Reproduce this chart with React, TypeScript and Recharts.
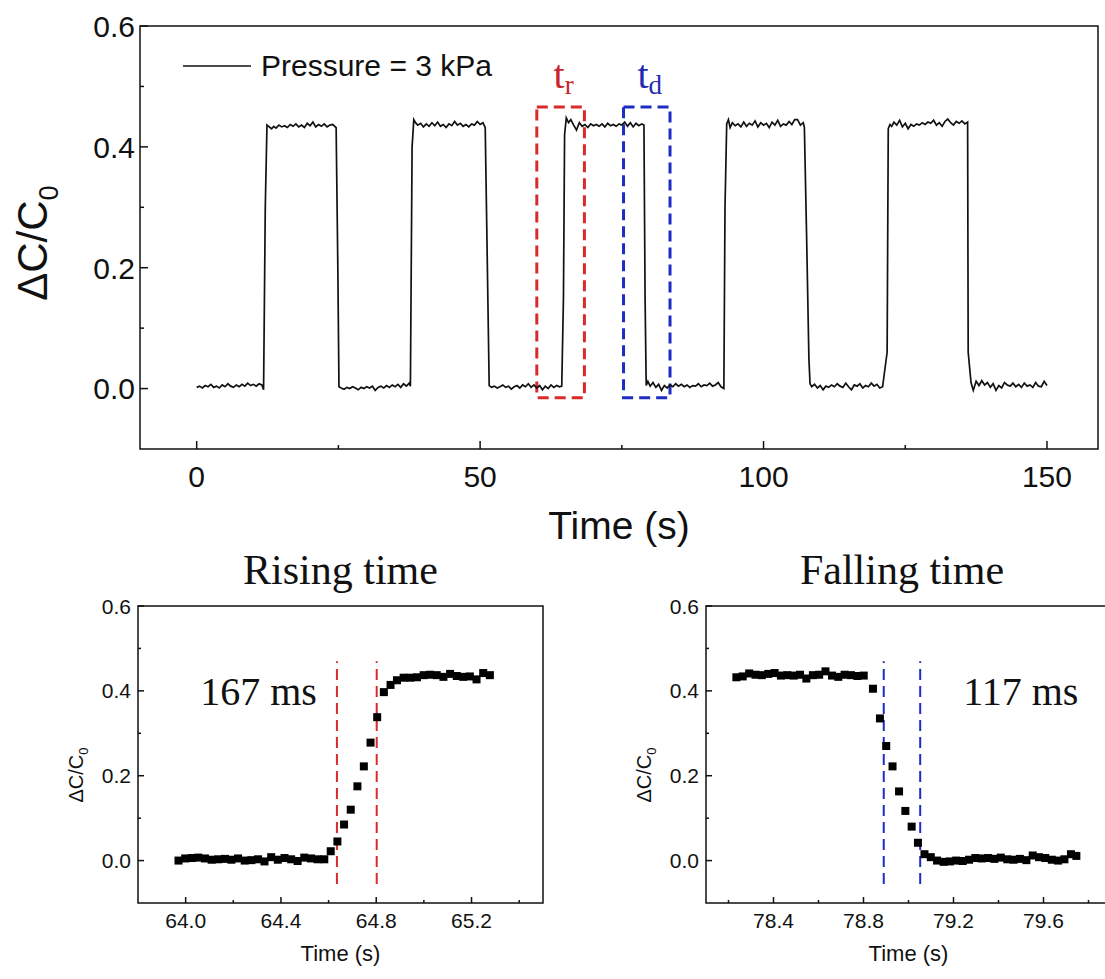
import React from 'react';
import {
  LineChart, Line, ScatterChart, Scatter, XAxis, YAxis,
  ReferenceArea, ReferenceLine, Legend,
} from 'recharts';

const SANS = '"Liberation Sans", Arial, sans-serif';
const SERIF = '"Liberation Serif", "Times New Roman", serif';
const INK = '#111';
const RED = '#d92b2b';
const BLUE = '#1f2cc4';

// ---------- main trace: [time (s), ΔC/C0] ----------
const mainTrace: [number, number][] = [
  [0, 0.002], [0.5, 0.004], [1, 0.001], [1.5, 0.005], [2, 0.003], [2.5, 0.007], [3, 0.002], [3.5, 0.004],
  [4, 0.001], [4.5, 0.006], [5, 0.003], [5.5, 0.008], [6, 0.004], [6.5, 0.002], [7, 0.006], [7.5, 0.003],
  [8, 0.007], [8.5, 0.004], [9, 0.009], [9.5, 0.005], [10, 0.007], [10.5, 0.004], [11, 0.008], [11.5, 0.006],
  [11.8, -0.002], [12.1, 0.3], [12.4, 0.436],
  [12.8, 0.433], [13.2, 0.43], [13.6, 0.434], [14, 0.431], [14.5, 0.436], [15, 0.433], [15.5, 0.435],
  [16, 0.432], [16.5, 0.437], [17, 0.434], [17.5, 0.438], [18, 0.433], [18.5, 0.436], [19, 0.432],
  [19.5, 0.439], [20, 0.435], [20.5, 0.441], [21, 0.433], [21.5, 0.437], [22, 0.434], [22.5, 0.438],
  [23, 0.433], [23.5, 0.436], [24, 0.437], [24.6, 0.432],
  [24.9, 0.2], [25.1, 0.003],
  [25.5, 0.001], [26, -0.001], [26.5, 0.002], [27, 0.0], [27.5, 0.003], [28, 0.001], [28.5, -0.002],
  [29, 0.002], [29.5, 0.0], [30, 0.003], [30.5, 0.001], [31, 0.004], [31.5, -0.003], [32, 0.002],
  [32.5, 0.004], [33, 0.001], [33.5, 0.005], [34, 0.002], [34.5, 0.006], [35, 0.003], [35.5, 0.007],
  [36, 0.002], [36.5, 0.008], [37, 0.004], [37.5, 0.009],
  [37.7, 0.004], [38.0, 0.4], [38.3, 0.445],
  [38.6, 0.44], [39, 0.436], [39.5, 0.439], [40, 0.433], [40.5, 0.438], [41, 0.434], [41.5, 0.44],
  [42, 0.435], [42.5, 0.441], [43, 0.434], [43.5, 0.437], [44, 0.432], [44.5, 0.438], [45, 0.435],
  [45.5, 0.442], [46, 0.436], [46.5, 0.439], [47, 0.434], [47.5, 0.437], [48, 0.433], [48.5, 0.438],
  [49, 0.436], [49.5, 0.442], [50, 0.437], [50.5, 0.44], [50.9, 0.432],
  [51.2, 0.25], [51.6, 0.005],
  [52, 0.002], [52.5, 0.004], [53, 0.001], [53.5, 0.003], [54, 0.006], [54.5, 0.002], [55, 0.004],
  [55.5, -0.001], [56, 0.003], [56.5, 0.005], [57, 0.001], [57.5, 0.006], [58, 0.003], [58.5, 0.008],
  [59, 0.002], [59.5, 0.006], [60, 0.001], [60.5, 0.005], [61, -0.002], [61.5, 0.004], [62, 0.0],
  [62.5, 0.006], [63, 0.002], [63.5, 0.005], [64, 0.003], [64.4, 0.004],
  [64.7, 0.15], [64.9, 0.42], [65.2, 0.448],
  [65.6, 0.44], [66, 0.445], [66.5, 0.436], [67, 0.428], [67.5, 0.44], [68, 0.434], [68.5, 0.437],
  [69, 0.432], [69.5, 0.438], [70, 0.435], [70.5, 0.437], [71, 0.434], [71.5, 0.438], [72, 0.433],
  [72.5, 0.439], [73, 0.435], [73.5, 0.437], [74, 0.434], [74.5, 0.438], [75, 0.436], [75.5, 0.441],
  [76, 0.434], [76.5, 0.44], [77, 0.433], [77.5, 0.439], [78, 0.435], [78.5, 0.438], [78.9, 0.436],
  [79.1, 0.15], [79.3, 0.005],
  [79.6, 0.012], [80, 0.004], [80.5, 0.01], [81, 0.002], [81.5, 0.007], [82, -0.003], [82.5, 0.005],
  [83, 0.001], [83.5, 0.006], [84, 0.003], [84.5, 0.008], [85, 0.004], [85.5, 0.007], [86, 0.003],
  [86.5, 0.006], [87, 0.002], [87.5, 0.005], [88, 0.004], [88.5, 0.008], [89, 0.003], [89.5, 0.006],
  [90, 0.005], [90.5, 0.009], [91, 0.004], [91.5, 0.006], [92, 0.01], [92.5, 0.003], [93, 0.0],
  [93.2, 0.3], [93.5, 0.438],
  [93.8, 0.445], [94.1, 0.432], [94.5, 0.44], [95, 0.435], [95.5, 0.438], [96, 0.433], [96.5, 0.441],
  [97, 0.434], [97.5, 0.439], [98, 0.436], [98.5, 0.443], [99, 0.433], [99.5, 0.44], [100, 0.436],
  [100.5, 0.439], [101, 0.432], [101.5, 0.441], [102, 0.436], [102.5, 0.444], [103, 0.434],
  [103.5, 0.438], [104, 0.436], [104.5, 0.442], [105, 0.437], [105.5, 0.445], [106, 0.445],
  [106.5, 0.436], [107, 0.44], [107.2, 0.433],
  [107.6, 0.25], [108.0, 0.05], [108.2, 0.008],
  [108.5, 0.003], [109, 0.007], [109.5, 0.001], [110, 0.005], [110.5, -0.002], [111, 0.004],
  [111.5, 0.002], [112, 0.006], [112.5, 0.003], [113, 0.008], [113.5, 0.004], [114, 0.002],
  [114.5, 0.009], [115, 0.003], [115.5, -0.002], [116, 0.006], [116.5, 0.004], [117, 0.008],
  [117.5, 0.001], [118, 0.005], [118.5, 0.003], [119, 0.009], [119.5, 0.004], [120, 0.007],
  [120.5, 0.001], [121, 0.003],
  [121.8, 0.06], [122.0, 0.43],
  [122.3, 0.437], [122.6, 0.434], [123, 0.441], [123.5, 0.436], [124, 0.444], [124.5, 0.433],
  [125, 0.439], [125.5, 0.43], [126, 0.437], [126.5, 0.434], [127, 0.438], [127.5, 0.436], [128, 0.44],
  [128.5, 0.437], [129, 0.441], [129.5, 0.439], [130, 0.444], [130.5, 0.436], [131, 0.44], [131.5, 0.434],
  [132, 0.442], [132.5, 0.446], [133, 0.44], [133.5, 0.436], [134, 0.442], [134.5, 0.439], [135, 0.443],
  [135.5, 0.438], [136, 0.441],
  [136.1, 0.06], [136.6, 0.01], [137, -0.003],
  [137.5, 0.012], [138, 0.005], [138.5, 0.013], [139, 0.006], [139.5, 0.01], [140, 0.002], [140.5, 0.008],
  [141, -0.003], [141.5, 0.005], [142, 0.001], [142.5, 0.01], [143, 0.006], [143.5, 0.004], [144, 0.009],
  [144.5, 0.003], [145, 0.007], [145.5, 0.002], [146, 0.009], [146.5, 0.004], [147, 0.006], [147.5, 0.002],
  [148, 0.01], [148.5, 0.004], [149, 0.003], [149.5, 0.012], [150, 0.005],
];

// ---------- rising-edge inset ----------
const riseTime = [
  63.970, 63.998, 64.026, 64.053, 64.081, 64.109, 64.137, 64.165, 64.192, 64.220, 64.248, 64.276,
  64.304, 64.331, 64.359, 64.387, 64.415, 64.443, 64.470, 64.498, 64.526, 64.554, 64.582, 64.609,
  64.637, 64.665, 64.693, 64.721, 64.748, 64.776, 64.804, 64.832, 64.860, 64.887, 64.915, 64.943,
  64.971, 64.999, 65.026, 65.054, 65.082, 65.110, 65.138, 65.165, 65.193, 65.221, 65.249, 65.277,
];
const riseValue = [
  0.0, 0.005, 0.006, 0.007, 0.005, 0.002, 0.003, 0.004, 0.002, 0.005, 0.0, 0.001,
  0.003, -0.002, 0.008, 0.002, 0.006, 0.003, -0.001, 0.007, 0.005, 0.003, 0.003, 0.022,
  0.045, 0.085, 0.12, 0.175, 0.222, 0.278, 0.338, 0.397, 0.414, 0.425, 0.431, 0.431,
  0.432, 0.437, 0.438, 0.437, 0.433, 0.44, 0.435, 0.433, 0.434, 0.427, 0.442, 0.437,
];
const riseMarkers = [64.635, 64.802];

// ---------- falling-edge inset ----------
const fallTime = [
  78.235, 78.263, 78.292, 78.320, 78.348, 78.377, 78.405, 78.433, 78.461, 78.490, 78.518, 78.546,
  78.575, 78.603, 78.631, 78.660, 78.688, 78.716, 78.744, 78.773, 78.801, 78.842, 78.873, 78.901,
  78.929, 78.958, 78.986, 79.014, 79.042, 79.071, 79.099, 79.127, 79.156, 79.184, 79.212, 79.241,
  79.269, 79.297, 79.325, 79.354, 79.382, 79.410, 79.439, 79.467, 79.495, 79.524, 79.552, 79.580,
  79.608, 79.637, 79.665, 79.693, 79.722, 79.746,
];
const fallValue = [
  0.432, 0.434, 0.441, 0.438, 0.437, 0.44, 0.442, 0.436, 0.437, 0.436, 0.438, 0.429,
  0.437, 0.438, 0.446, 0.436, 0.433, 0.438, 0.437, 0.435, 0.436, 0.405, 0.335, 0.27,
  0.222, 0.163, 0.117, 0.08, 0.042, 0.015, 0.008, 0.0, -0.003, -0.002, 0.0, -0.001,
  0.002, 0.006, 0.005, 0.006, 0.004, 0.007, 0.003, 0.002, 0.004, 0.001, 0.012, 0.008,
  0.006, 0.002, 0.0, 0.003, 0.015, 0.011,
];
const fallMarkers = [78.89, 79.052];

// ---------- axes ----------
const mainXDomain = [-10, 159];
const mainXTicks = [0, 25, 50, 75, 100, 125, 150];
const mainXMajor = [0, 50, 100, 150];
const yDomain = [-0.1, 0.6];
const yTicks = [0, 0.1, 0.2, 0.3, 0.4, 0.5, 0.6];
const yMajor = [0, 0.2, 0.4, 0.6];
const riseXDomain = [63.8, 65.5];
const riseXTicks = [64.0, 64.2, 64.4, 64.6, 64.8, 65.0, 65.2, 65.4];
const riseXMajor = [64.0, 64.4, 64.8, 65.2];
const fallXDomain = [78.1, 79.9];
const fallXTicks = [78.2, 78.4, 78.6, 78.8, 79.0, 79.2, 79.4, 79.6, 79.8];
const fallXMajor = [78.4, 78.8, 79.2, 79.6];
const redBox = { x1: 60, x2: 68.4, y1: -0.015, y2: 0.466 };
const blueBox = { x1: 75.3, x2: 83.5, y1: -0.015, y2: 0.466 };

const mainData = mainTrace.map(([t, v]) => ({ t, v }));
const riseData = riseTime.map((t, i) => ({ t, v: riseValue[i] }));
const fallData = fallTime.map((t, i) => ({ t, v: fallValue[i] }));

const isIn = (arr: number[], v: number) => arr.some((m) => Math.abs(m - v) < 1e-6);

const makeXTick = (majors: number[], fontSize: number, dy: number, len: number[], fmt: (v: number) => string) =>
  (props: any) => {
    const { x, y, payload } = props;
    const major = isIn(majors, payload.value);
    return (
      <g>
        <line x1={x} x2={x} y1={y} y2={y - (major ? len[0] : len[1])} stroke={INK} strokeWidth={1.5} />
        {major && (
          <text x={x} y={y + dy} textAnchor="middle" fontSize={fontSize} fontFamily={SANS} fill={INK}>
            {fmt(payload.value)}
          </text>
        )}
      </g>
    );
  };

const makeYTick = (fontSize: number, dx: number, len: number[]) => (props: any) => {
  const { x, y, payload } = props;
  const major = isIn(yMajor, payload.value);
  return (
    <g>
      <line x1={x} x2={x + (major ? len[0] : len[1])} y1={y} y2={y} stroke={INK} strokeWidth={1.5} />
      {major && (
        <text x={x - dx} y={y} dy="0.36em" textAnchor="end" fontSize={fontSize} fontFamily={SANS} fill={INK}>
          {payload.value.toFixed(1)}
        </text>
      )}
    </g>
  );
};

const yTitle = (cx: number, cy: number, fontSize: number) => () => (
  <text
    x={cx}
    y={cy}
    transform={`rotate(-90, ${cx}, ${cy})`}
    textAnchor="middle"
    fontSize={fontSize}
    fontFamily={SANS}
    fill={INK}
  >
    ΔC/C<tspan fontSize={fontSize * 0.65} dy={fontSize * 0.25}>0</tspan>
  </text>
);

const xTitle = (dy: number, fontSize: number) => (p: any) => {
  const vb = p.viewBox || {};
  return (
    <text x={vb.x + vb.width / 2} y={vb.y + dy} textAnchor="middle" fontSize={fontSize} fontFamily={SANS} fill={INK}>
      Time (s)
    </text>
  );
};

const boxLabel = (main: string, sub: string, color: string) => (p: any) => {
  const vb = p.viewBox || {};
  return (
    <text x={vb.x + vb.width / 2 + 3} y={vb.y - 19} textAnchor="middle" fontSize={40} fontFamily={SERIF} fill={color}>
      {main}
      <tspan fontSize={27} dy={6}>{sub}</tspan>
    </text>
  );
};

const panelTitle = (title: string) => (p: any) => {
  const vb = p.viewBox || {};
  return (
    <text x={vb.x + vb.width / 2} y={vb.y - 22} textAnchor="middle" fontSize={42} fontFamily={SERIF} fill={INK}>
      {title}
    </text>
  );
};

const fallTitle = (p: any) => {
  const vb = p.viewBox || {};
  return (
    <text x={vb.x + 196} y={vb.y - 22} textAnchor="middle" fontSize={42} fontFamily={SERIF} fill={INK}>
      Falling time
    </text>
  );
};

const noteLabel = (text: string, dx: number, anchor: 'start' | 'end') => (p: any) => {
  const vb = p.viewBox || {};
  return (
    <text x={vb.x + dx} y={705 - 520} textAnchor={anchor} fontSize={40} fontFamily={SERIF} fill={INK}>
      {text}
    </text>
  );
};

const Square = (p: any) => <rect x={p.cx - 4} y={p.cy - 4} width={8} height={8} fill="#000" />;

const legendContent = (p: any) => {
  const item = (p.payload && p.payload[0]) || {};
  return (
    <div style={{ display: 'flex', alignItems: 'center', fontFamily: SANS, fontSize: 30, color: INK, whiteSpace: 'nowrap' }}>
      <svg width={68} height={4} style={{ display: 'block' }}>
        <line x1={0} y1={2} x2={68} y2={2} stroke={INK} strokeWidth={1.6} />
      </svg>
      <span style={{ marginLeft: 10 }}>{item.value}</span>
    </div>
  );
};

function MainChart() {
  return (
    <LineChart width={1105} height={548} data={mainData} margin={{ top: 26, right: 7, left: 80, bottom: 39 }}>
      <XAxis
        type="number"
        dataKey="t"
        domain={mainXDomain}
        ticks={mainXTicks}
        allowDataOverflow
        axisLine={false}
        tickLine={false}
        tickSize={0}
        tickMargin={0}
        height={60}
        interval={0}
        tick={makeXTick(mainXMajor, 30, 38, [8, 4], (v) => String(v))}
        label={xTitle(90, 39)}
      />
      <YAxis
        type="number"
        domain={yDomain}
        ticks={yTicks}
        allowDataOverflow
        axisLine={false}
        tickLine={false}
        tickSize={0}
        tickMargin={0}
        width={60}
        interval={0}
        tick={makeYTick(30, 5, [8, 4])}
        label={yTitle(47, 243, 42)}
      />
      <ReferenceArea x1={-10} x2={159} y1={-0.1} y2={0.6} fill="none" stroke={INK} strokeWidth={1.5} ifOverflow="visible" />
      <ReferenceArea
        {...redBox}
        fill="none"
        stroke={RED}
        strokeWidth={3}
        strokeDasharray="11 6"
        ifOverflow="visible"
        label={boxLabel('t', 'r', '#c8262b')}
      />
      <ReferenceArea
        {...blueBox}
        fill="none"
        stroke={BLUE}
        strokeWidth={3}
        strokeDasharray="11 6"
        ifOverflow="visible"
        label={boxLabel('t', 'd', '#1f2cb0')}
      />
      <Legend
        layout="vertical"
        align="center"
        verticalAlign="middle"
        content={legendContent}
        wrapperStyle={{ left: 183, top: 49, width: 360, height: 40 }}
      />
      <Line
        type="linear"
        dataKey="v"
        name="Pressure = 3 kPa"
        stroke={INK}
        strokeWidth={1.7}
        dot={false}
        isAnimationActive={false}
      />
    </LineChart>
  );
}

function Inset(props: {
  data: { t: number; v: number }[];
  domain: number[];
  ticks: number[];
  majors: number[];
  markers: number[];
  color: string;
  leftMargin: number;
  rightMargin: number;
  title: (p: any) => any;
  note: (p: any) => any;
  noteOnFirst: boolean;
}) {
  const { data, domain, ticks, majors, markers, color, leftMargin, rightMargin, title, note, noteOnFirst } = props;
  return (
    <ScatterChart width={560} height={459} margin={{ top: 86, right: rightMargin, left: leftMargin, bottom: 26 }}>
      <XAxis
        type="number"
        dataKey="t"
        domain={domain}
        ticks={ticks}
        allowDataOverflow
        axisLine={false}
        tickLine={false}
        tickSize={0}
        tickMargin={0}
        height={50}
        interval={0}
        tick={makeXTick(majors, 21, 25, [6, 3], (v) => v.toFixed(1))}
        label={xTitle(58, 22)}
      />
      <YAxis
        type="number"
        dataKey="v"
        domain={yDomain}
        ticks={yTicks}
        allowDataOverflow
        axisLine={false}
        tickLine={false}
        tickSize={0}
        tickMargin={0}
        width={60}
        interval={0}
        tick={makeYTick(21, 7, [6, 3])}
        label={yTitle(leftMargin + 5, 255, 20)}
      />
      <ReferenceArea
        x1={domain[0]}
        x2={domain[1]}
        y1={-0.1}
        y2={0.6}
        fill="none"
        stroke={INK}
        strokeWidth={1.5}
        ifOverflow="visible"
        label={title}
      />
      {markers.map((m, i) => (
        <ReferenceLine
          key={i}
          segment={[{ x: m, y: -0.055 }, { x: m, y: 0.47 }]}
          stroke={color}
          strokeWidth={2}
          strokeDasharray="11 6"
          ifOverflow="visible"
          label={(noteOnFirst ? i === 0 : i === 1) ? note : undefined}
        />
      ))}
      <Scatter data={data} fill="#000" shape={Square} isAnimationActive={false} />
    </ScatterChart>
  );
}

export default function App() {
  return (
    <div style={{ position: 'fixed', left: 0, top: 0, width: 1105, height: 979, overflow: 'hidden', background: '#fff' }}>
      <div style={{ position: 'absolute', left: 0, top: 0 }}>
        <MainChart />
      </div>
      <div style={{ position: 'absolute', left: 0, top: 520 }}>
        <Inset
          data={riseData}
          domain={riseXDomain}
          ticks={riseXTicks}
          majors={riseXMajor}
          markers={riseMarkers}
          color={RED}
          leftMargin={78}
          rightMargin={17}
          title={panelTitle('Rising time')}
          note={noteLabel('167 ms', -20, 'end')}
          noteOnFirst
        />
      </div>
      <div style={{ position: 'absolute', left: 560, top: 520 }}>
        <Inset
          data={fallData}
          domain={fallXDomain}
          ticks={fallXTicks}
          majors={fallXMajor}
          markers={fallMarkers}
          color={BLUE}
          leftMargin={86}
          rightMargin={9}
          title={fallTitle}
          note={noteLabel('117 ms', 43, 'start')}
          noteOnFirst={false}
        />
      </div>
    </div>
  );
}
